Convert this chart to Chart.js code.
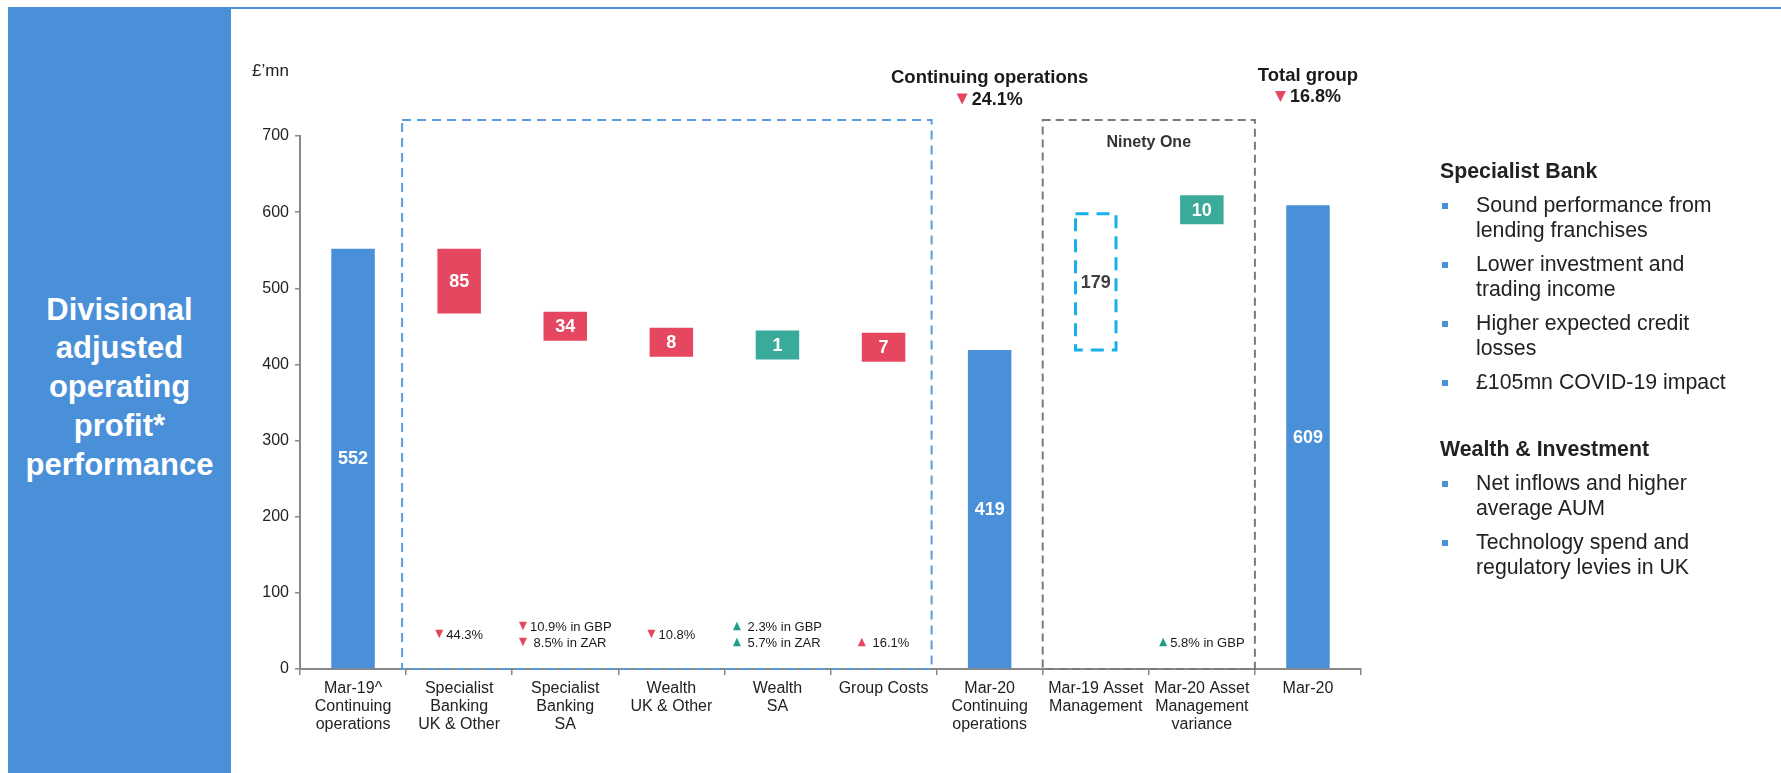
<!DOCTYPE html>
<html>
<head>
<meta charset="utf-8">
<title>Divisional adjusted operating profit</title>
<script src="https://cdn.jsdelivr.net/npm/chart.js@4.4.1/dist/chart.umd.min.js"></script>
<style>
  body { margin: 0; width: 1781px; height: 773px; overflow: hidden; background: #fff;
         font-family: "Liberation Sans", Arial, sans-serif; }
  #chart { position: absolute; left: 0; top: 0; }
  .side { position: absolute; left: 8px; top: 7px; width: 223px; height: 766px; background: #4a90d9;
          color: #fff; font-weight: bold; font-size: 31px; line-height: 38.7px; text-align: center;
          display: flex; align-items: center; justify-content: center; padding-bottom: 5px; box-sizing: border-box; }
  .topline { position: absolute; left: 231px; right: 0; top: 7px; height: 2px; background: #4a90d9; }
  .notes { position: absolute; left: 1440px; top: 159px; width: 340px; color: #222; font-size: 21.3px; line-height: 25px; }
  .notes h3 { margin: 0; font-size: 21.3px; line-height: 25px; }
  .notes h3.next { margin-top: 42px; }
  .notes ul { list-style: none; margin: 0; padding: 0; }
  .notes li { position: relative; padding-left: 36px; margin-top: 9px; }
  .notes li::before { content: ''; position: absolute; left: 2px; top: 10px; width: 6px; height: 6px; background: #4a90d9; }
</style>
</head>
<body>
<div class="side"><div>Divisional<br>adjusted<br>operating<br>profit*<br>performance</div></div>
<div class="topline"></div>
<canvas id="chart" width="1781" height="773"></canvas>
<div class="notes">
  <h3>Specialist Bank</h3>
  <ul>
    <li>Sound performance from<br>lending franchises</li>
    <li>Lower investment and<br>trading income</li>
    <li>Higher expected credit<br>losses</li>
    <li>£105mn COVID-19 impact</li>
  </ul>
  <h3 class="next">Wealth &amp; Investment</h3>
  <ul>
    <li>Net inflows and higher<br>average AUM</li>
    <li>Technology spend and<br>regulatory levies in UK</li>
  </ul>
</div>
<script>
// bridge categories, left to right
const categories = [
  ['Mar-19^', 'Continuing', 'operations'],
  ['Specialist', 'Banking', 'UK & Other'],
  ['Specialist', 'Banking', 'SA'],
  ['Wealth', 'UK & Other'],
  ['Wealth', 'SA'],
  'Group Costs',
  ['Mar-20', 'Continuing', 'operations'],
  ['Mar-19 Asset', 'Management'],
  ['Mar-20 Asset', 'Management', 'variance'],
  'Mar-20'
];
// full bars (£'mn), null where the bar is a movement
const totalValues = [552, null, null, null, null, null, 419, null, null, 609];
// movements between the totals (£'mn)
const stepValues = [null, -85, -34, -8, 1, -7, null, 179, 10, null];
// Ninety One prior year add-back is shown as an open box
const priorYearStep = [false, false, false, false, false, false, false, true, false, false];

// year on year change notes under each movement
const noteLines = [null, ['44.3%'], ['10.9% in GBP', ' 8.5% in ZAR'], ['10.8%'], [' 2.3% in GBP', ' 5.7% in ZAR'], [' 16.1%'], null, null, ['5.8% in GBP'], null];
const noteUp = [null, false, false, false, true, true, null, null, true, null];
const noteGood = [null, false, false, false, true, false, null, null, true, null];

// headline changes above the totals
const headerTitles = ['Continuing operations', 'Total group'];
const headerChanges = ['24.1%', '16.8%'];
const headerAt = [6, 9];

const BLUE = '#4a90d9', RED = '#e4475f', TEAL = '#3aab9a', TEAL_ARROW = '#1f9e8a';
const FONT = '"Liberation Sans", Arial, sans-serif';
Chart.defaults.font.family = FONT;

// waterfall: each movement floats from the running level
let level = 0;
const floating = categories.map((c, i) => {
  if (totalValues[i] !== null) { level = totalValues[i]; return [0, level]; }
  const from = level;
  level += stepValues[i];
  return [from, level];
});
const barText = floating.map(d => String(Math.round(Math.abs(d[1] - d[0]))));
const barColours = floating.map((d, i) => {
  if (totalValues[i] !== null) return BLUE;
  if (priorYearStep[i]) return 'rgba(0,0,0,0)';
  return stepValues[i] < 0 ? RED : TEAL;
});

function triangle(ctx, x, y, w, h, up, colour) {
  ctx.beginPath();
  if (up) {
    ctx.moveTo(x, y + h / 2); ctx.lineTo(x + w, y + h / 2); ctx.lineTo(x + w / 2, y - h / 2);
  } else {
    ctx.moveTo(x, y - h / 2); ctx.lineTo(x + w, y - h / 2); ctx.lineTo(x + w / 2, y + h / 2);
  }
  ctx.closePath();
  ctx.fillStyle = colour;
  ctx.fill();
}

function dashedRect(ctx, l, t, r, b, colour, width, dash) {
  ctx.save();
  ctx.strokeStyle = colour;
  ctx.lineWidth = width;
  ctx.setLineDash(dash);
  ctx.strokeRect(l, t, r - l, b - t);
  ctx.restore();
}

const MIN_BOX = 29;

const bridgePlugin = {
  id: 'bridge',
  // small movements get a box tall enough for their label, centred on the move
  afterDatasetsUpdate(chart) {
    chart.getDatasetMeta(0).data.forEach((bar, i) => {
      if (totalValues[i] !== null) return;
      const top = Math.min(bar.y, bar.base), bottom = Math.max(bar.y, bar.base);
      if (bottom - top < MIN_BOX) {
        const mid = (top + bottom) / 2;
        bar.y = mid - MIN_BOX / 2;
        bar.base = mid + MIN_BOX / 2;
      }
    });
  },
  afterDatasetsDraw(chart) {
    const ctx = chart.ctx;
    ctx.save();
    chart.getDatasetMeta(0).data.forEach((bar, i) => {
      const top = Math.min(bar.y, bar.base), bottom = Math.max(bar.y, bar.base);
      if (priorYearStep[i]) {
        dashedRect(ctx, bar.x - bar.width / 2 + 1.5, top, bar.x + bar.width / 2 - 1.5, bottom, '#18b0ea', 3, [13, 8]);
      }
      ctx.font = 'bold 18px ' + FONT;
      ctx.fillStyle = priorYearStep[i] ? '#404040' : '#fff';
      ctx.textAlign = 'center';
      ctx.textBaseline = 'middle';
      ctx.fillText(barText[i], bar.x, (top + bottom) / 2 + 1);
    });
    ctx.restore();
  },
  afterDraw(chart) {
    const ctx = chart.ctx;
    const x = chart.scales.x, y = chart.scales.y;
    const catW = (x.right - x.left) / categories.length;
    const edge = k => x.left + k * catW;
    const axisY = y.bottom;
    const boxTop = y.getPixelForValue(700) - 16;

    // movement groups
    dashedRect(ctx, edge(1) - 4, boxTop, edge(6) - 5, axisY, '#5a9be0', 2, [9, 6]);
    dashedRect(ctx, edge(7), boxTop, edge(9), axisY, '#7a7a7a', 2, [8, 5]);

    ctx.save();
    ctx.textBaseline = 'middle';
    ctx.textAlign = 'center';
    ctx.fillStyle = '#333';
    ctx.font = 'bold 16px ' + FONT;
    ctx.fillText('Ninety One', edge(8), boxTop + 23);

    // unit label
    ctx.textAlign = 'left';
    ctx.fillStyle = '#222';
    ctx.font = '17px ' + FONT;
    ctx.fillText('£’mn', 252, 71);

    // headline changes
    const titleY = [78, 75.5];
    headerTitles.forEach((title, k) => {
      const cx = x.getPixelForValue(headerAt[k]);
      ctx.textAlign = 'center';
      ctx.fillStyle = '#1a1a1a';
      ctx.font = 'bold 18.5px ' + FONT;
      ctx.fillText(title, cx, titleY[k]);
      ctx.font = 'bold 18px ' + FONT;
      const tw = ctx.measureText(headerChanges[k]).width;
      const total = 11 + 4 + tw;
      const lx = cx - total / 2;
      const cy = titleY[k] + 22;
      triangle(ctx, lx, cy - 1, 11, 11, false, RED);
      ctx.textAlign = 'left';
      ctx.fillStyle = '#1a1a1a';
      ctx.fillText(headerChanges[k], lx + 15, cy);
    });

    // change notes
    ctx.font = '13px ' + FONT;
    noteLines.forEach((lines, i) => {
      if (!lines) return;
      const cx = x.getPixelForValue(i);
      let first;
      if (lines.length === 2) first = axisY - 43;
      else if (i === 1 || i === 3) first = axisY - 35;
      else first = axisY - 27;
      const widest = Math.max(...lines.map(t => ctx.measureText(t).width));
      const lx = cx - (8 + 3 + widest) / 2;
      lines.forEach((t, j) => {
        const ly = first + j * 16;
        triangle(ctx, lx, ly, 8, 8.5, noteUp[i], noteGood[i] ? TEAL_ARROW : RED);
        ctx.fillStyle = '#1a1a1a';
        ctx.textAlign = 'left';
        ctx.fillText(t, lx + 11, ly + 1);
      });
    });
    ctx.restore();
  }
};

new Chart(document.getElementById('chart'), {
  type: 'bar',
  data: {
    labels: categories,
    datasets: [{
      data: floating,
      backgroundColor: barColours,
      borderWidth: 0,
      barPercentage: 0.41,
      categoryPercentage: 1
    }]
  },
  options: {
    responsive: false,
    animation: false,
    devicePixelRatio: 1,
    layout: { padding: { left: 242, right: 420, top: 136, bottom: 0 } },
    plugins: { legend: { display: false }, tooltip: { enabled: false } },
    scales: {
      x: {
        grid: { drawOnChartArea: false, color: '#888', lineWidth: 1.5, tickLength: 6 },
        border: { color: '#888', width: 2 },
        ticks: { color: '#222', font: { size: 16, lineHeight: 1.15 }, autoSkip: false, maxRotation: 0, padding: 4 },
        afterFit: s => { s.height = 104; }
      },
      y: {
        min: 0,
        max: 700,
        grid: { drawOnChartArea: false, color: '#888', lineWidth: 1.5, tickLength: 5 },
        border: { color: '#888', width: 2 },
        ticks: { stepSize: 100, color: '#222', font: { size: 16 }, padding: 6 },
        afterFit: s => { s.width = 58; }
      }
    }
  },
  plugins: [bridgePlugin]
});
</script>
</body>
</html>
